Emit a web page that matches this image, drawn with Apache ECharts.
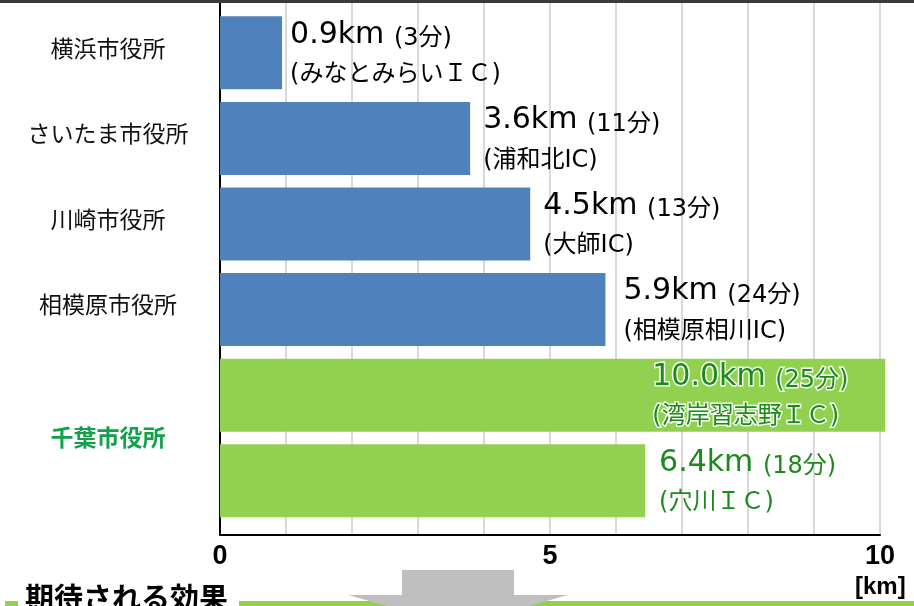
<!DOCTYPE html>
<html><head><meta charset="utf-8">
<script src="https://cdn.jsdelivr.net/npm/echarts@6/dist/echarts.min.js"></script>
<style>html,body{margin:0;padding:0;background:#fff}#c{width:914px;height:606px}</style>
</head><body><div id="c"></div>
<script>
const cities = ['横浜市役所','さいたま市役所','川崎市役所','相模原市役所','千葉市役所',''];
const interchanges = ['(みなとみらいＩＣ)','(浦和北IC)','(大師IC)','(相模原相川IC)','(湾岸習志野ＩＣ)','(穴川ＩＣ)'];
// distances as printed in the labels
const distances = [0.9, 3.6, 4.5, 5.9, 10.0, 6.4];
// bar lengths as drawn in the picture (km on the axis)
const barLengths = [0.94, 3.79, 4.7, 5.84, 10.08, 6.44];
const minutes = [3, 11, 13, 24, 25, 18];
const isChiba = [false, false, false, false, true, true];
const xTicks = [0, 5, 10];

const BLUE = '#4f81bd', GREEN = '#92d050', DGREEN = '#1e8a1e';
const latin = "'DejaVu Sans','Noto Sans CJK JP'";
const labelGaps = [8, 13, 13, 18, 20, 14];

function richFor(color, glow) {
  const extra = glow ? {textBorderColor:'rgba(255,255,255,0.9)', textBorderWidth:3} : {};
  return {
    a: Object.assign({fontSize:30, lineHeight:36, color:color, fontFamily:latin}, extra),
    b: Object.assign({fontSize:24, lineHeight:36, color:color, fontFamily:latin, verticalAlign:'bottom', padding:[0,0,2,0]}, extra)
  };
}

const barData = barLengths.map((len, i) => {
  const green = isChiba[i];
  const inside = len >= 10;
  const d = distances[i];
  return {
    value: len,
    itemStyle: {color: green ? GREEN : BLUE},
    label: {
      show: true,
      position: inside ? 'insideRight' : 'right',
      distance: labelGaps[i],
      align: 'left',
      offset: inside ? [-213, 0] : [0, 0],
      formatter: '{a|' + d.toFixed(1) + 'km }{b|(' + minutes[i] + '分)}\n{b|' + interchanges[i] + '}',
      rich: richFor(green ? DGREEN : '#000', inside)
    }
  };
});

const chart = echarts.init(document.getElementById('c'), null, {renderer:'canvas'});
chart.setOption({
  animation: false,
  grid: [
    {left:220, top:10, width:660, height:513.6},
    {left:220, top:3, width:660, height:532}
  ],
  xAxis: [
    {gridIndex:0, type:'value', min:0, max:10, show:false},
    {gridIndex:1, type:'value', min:0, max:10, interval:1,
      axisLine:{show:true, onZero:false, lineStyle:{color:'#000', width:2}},
      axisTick:{show:false},
      splitLine:{show:true, lineStyle:{color:'#d9d9d9', width:2}},
      axisLabel:{
        formatter: v => xTicks.indexOf(v) >= 0 ? String(v) : '',
        fontSize:27, fontWeight:'bold', color:'#000',
        fontFamily:"'Liberation Sans Narrow','Liberation Sans'", margin:8
      }}
  ],
  yAxis: [
    {gridIndex:0, type:'category', inverse:true, data: interchanges,
      axisLine:{show:false}, axisTick:{show:false}, splitLine:{show:false},
      axisLabel:{
        align:'center', margin:112,
        fontSize:23, color:'#111', fontFamily:"'Noto Sans CJK JP'",
        formatter: (v, i) => {
          if (i === 4) return '{g|' + cities[i] + '}';
          return '{n|' + cities[i] + '}';
        },
        rich: {
          n: {fontSize:23, color:'#111', fontFamily:"'Noto Sans CJK JP'", padding:[0,0,10,0]},
          g: {fontSize:23, fontWeight:'bold', color:'#12a14b', fontFamily:"'Noto Sans CJK JP'", padding:[85,0,0,0]}
        }
      }},
    {gridIndex:1, type:'value', min:0, max:1,
      axisLine:{show:true, lineStyle:{color:'#000', width:2}},
      axisLabel:{show:false}, axisTick:{show:false}, splitLine:{show:false}}
  ],
  series: [{
    type:'bar', xAxisIndex:0, yAxisIndex:0, barWidth:73, clip:false,
    data: barData
  }],
  graphic: [
    {type:'rect', shape:{x:0, y:0, width:914, height:3}, style:{fill:'#3a3a3a'}, z:10},
    {type:'rect', shape:{x:5, y:601, width:13, height:5}, style:{fill:GREEN}, z:10},
    {type:'rect', shape:{x:239, y:601, width:675, height:5}, style:{fill:GREEN}, z:10},
    {type:'polygon', shape:{points:[[402,570],[514,570],[514,595],[568,595],[458,626],[348,595],[402,595]]}, style:{fill:'#bfbfbf'}, z:11},
    {type:'text', left:25, top:583, style:{text:'期待される効果', font:"bold 29px 'Noto Sans CJK JP'", fill:'#000'}, z:12},
    {type:'text', left:855, top:575, style:{text:'[km]', font:"bold 24px 'Liberation Sans Narrow','Liberation Sans'", fill:'#000'}, z:12}
  ]
});
</script>
</body></html>
